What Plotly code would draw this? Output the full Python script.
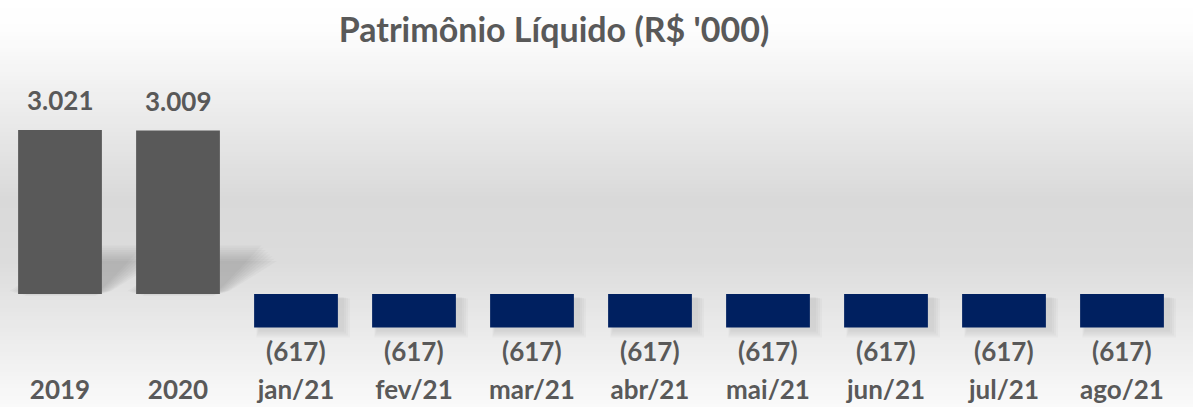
import plotly.graph_objects as go

categories = ["2019", "2020", "jan/21", "fev/21", "mar/21", "abr/21", "mai/21", "jun/21", "jul/21", "ago/21"]
values = [3021, 3009, -617, -617, -617, -617, -617, -617, -617, -617]
labels = ["3.021", "3.009", "(617)", "(617)", "(617)", "(617)", "(617)", "(617)", "(617)", "(617)"]
title_text = "Patrimônio Líquido (R$ '000)"

W, H = 1193, 407
M_L, M_R, M_T, M_B = 1, 12, 70, 35
PLOT_W = W - M_L - M_R
PLOT_H = H - M_T - M_B
Y_RANGE = [-1436, 4125]
BARGAP = 0.29
GRAY = "#595959"
NAVY = "#002060"
TXT = "#595959"
FONT = "Lato"

colors = [GRAY if v > 0 else NAVY for v in values]
xs = list(range(len(categories)))

fig = go.Figure()
fig.add_trace(go.Bar(
    x=categories, y=values, marker=dict(color=colors, line=dict(width=0)),
    hoverinfo="skip", showlegend=False,
))

# data labels
for i, (v, t) in enumerate(zip(values, labels)):
    fig.add_annotation(
        x=i, y=v, text=t, showarrow=False,
        yanchor="bottom" if v > 0 else "top",
        yshift=12 if v > 0 else -5,
        font=dict(family=FONT, size=26, color=TXT, weight="bold"),
    )

# background vertical gradient (white -> light gray -> near white)
stops = [(0, (255, 255, 255)), (30, (253, 253, 253)), (200, (217, 217, 217)), (260, (220, 220, 220)), (407, (250, 250, 250))]
def col_at(py):
    for (p0, c0), (p1, c1) in zip(stops[:-1], stops[1:]):
        if p0 <= py <= p1:
            f = (py - p0) / (p1 - p0) if p1 > p0 else 0
            return tuple(round(a + (b - a) * f) for a, b in zip(c0, c1))
    return stops[-1][1]

band = 4
shapes = []
for py in range(0, H, band):
    c = col_at(py + band / 2)
    y1 = (H - M_B - py) / PLOT_H
    y0 = (H - M_B - (py + band + 1)) / PLOT_H
    shapes.append(dict(type="rect", xref="paper", yref="paper",
                       x0=-M_L / PLOT_W - 0.01, x1=1 + M_R / PLOT_W + 0.01,
                       y0=y0, y1=y1, line=dict(width=0),
                       fillcolor="rgb(%d,%d,%d)" % c, layer="below"))

# soft shadows (styling derived from bar geometry)
ux = PLOT_W / 10.0                       # px per category
uy = PLOT_H / (Y_RANGE[1] - Y_RANGE[0])  # px per value unit
half = (1 - BARGAP) / 2
for i, v in zip(xs, values):
    x0, x1 = i - half, i + half
    if v > 0:
        dx, dy = 48 / ux, 42 / uy
        for k in range(8):
            s = 9 - k * 2.2
            e = s / ux
            ey = s / uy
            path = "M %f,%f L %f,%f L %f,%f L %f,%f Z" % (
                x0 - e, 0 + ey * 0.3, x1 + e, 0 + ey * 0.3,
                x1 + dx + e, dy - ey, x0 + dx - e, dy - ey)
            shapes.append(dict(type="path", xref="x", yref="y", path=path,
                               fillcolor="rgba(90,90,90,0.045)", line=dict(width=0), layer="below"))
    else:
        ox, oy = 5 / ux, 3 / uy
        for k in range(4):
            s = 7 - k * 2
            e = s / ux
            ey = s / uy
            shapes.append(dict(type="rect", xref="x", yref="y",
                               x0=x0 + ox - e * 0.4, x1=x1 + ox + e, y0=v - oy - ey, y1=0 - oy - ey * 0.2,
                               fillcolor="rgba(70,70,70,0.03)", line=dict(width=0), layer="below"))
fig.update_layout(shapes=shapes)

fig.update_layout(
    width=W, height=H,
    margin=dict(l=M_L, r=M_R, t=M_T, b=M_B, autoexpand=False),
    paper_bgcolor="white", plot_bgcolor="rgba(0,0,0,0)",
    bargap=BARGAP,
    title=dict(text=title_text, x=554 / W, xanchor="center", xref="container",
               y=1 - 30 / H, yanchor="middle", yref="container",
               font=dict(family=FONT, size=34, color=TXT, weight="bold")),
    xaxis=dict(type="category", range=[-0.5, 9.5], showline=False, showgrid=False, zeroline=False,
               automargin=False, ticks="",
               tickfont=dict(family=FONT, size=26, color=TXT, weight="bold")),
    yaxis=dict(range=Y_RANGE, visible=False, showgrid=False, zeroline=False, automargin=False),
)

fig.write_html("out.html", config={"displayModeBar": False, "staticPlot": True},
               post_script="document.body.style.margin='0';document.body.style.overflow='hidden';")
